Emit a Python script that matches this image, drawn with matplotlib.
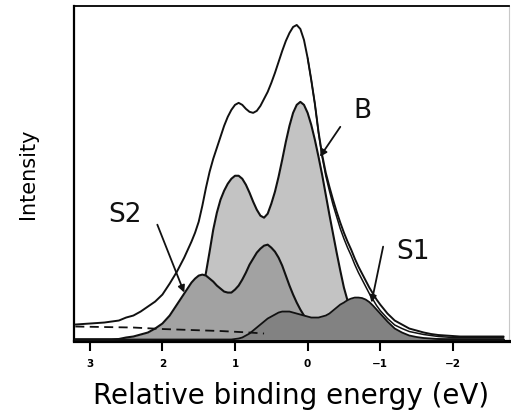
"""Photoemission peak decomposition: bulk (B) and surface (S1, S2) components."""

import matplotlib

matplotlib.use("Agg")
import matplotlib.pyplot as plt


# relative binding energy (eV): 0.1 eV steps in the tails, 0.05 eV across the peaks
ENERGY = [
    3.2, 3.1, 3.0, 2.9, 2.8, 2.7, 2.6, 2.5, 2.4, 2.3, 2.2, 2.1, 2.0, 1.9, 1.8, 1.7,
    1.6, 1.55, 1.5, 1.45, 1.4, 1.35, 1.3, 1.25, 1.2, 1.15,
    1.1, 1.05, 1.0, 0.95, 0.9, 0.85, 0.8, 0.75, 0.7, 0.65,
    0.6, 0.55, 0.5, 0.45, 0.4, 0.35, 0.3, 0.25, 0.2, 0.15,
    0.1, 0.05, 0.0, -0.05, -0.1, -0.15, -0.2, -0.25, -0.3, -0.35,
    -0.4, -0.45, -0.5, -0.55, -0.6, -0.65, -0.7, -0.75, -0.8, -0.85,
    -0.9, -0.95, -1.0,
    -1.1, -1.2, -1.3, -1.4, -1.5, -1.6, -1.7, -1.8, -1.9, -2.0,
    -2.1, -2.2, -2.3, -2.4, -2.5, -2.6, -2.7,
]

# measured spectrum (outer envelope)
TOTAL = [
    15, 15.5, 16, 16.5, 17, 18, 19, 22, 24, 28, 33, 38, 45, 56, 68, 82,
    98, 107, 118, 134, 152, 168, 181, 192, 203, 214,
    223, 230, 235, 237, 235, 231, 228, 227, 229, 234,
    241, 248, 257, 267, 278, 289, 299, 307, 313, 315,
    311, 300, 282, 260, 236, 208, 185, 167, 153, 140,
    128, 117, 107, 98, 90, 81, 73, 66, 59, 52,
    46, 40, 35,
    26, 19, 15, 11, 9, 7, 5.5, 4.5, 4, 3.5,
    3, 3, 3, 3, 3, 3, 3,
]

BULK = [
    0, 0, 0, 0, 0, 0, 0, 0, 0, 0, 0, 0.5, 1, 3, 6, 12,
    22, 29, 37, 50, 67, 88, 110, 127, 140, 149,
    156, 161, 164, 164, 161, 155, 147, 138, 130, 124,
    122, 126, 136, 148, 163, 180, 198, 214, 227, 235,
    238, 235, 227, 215, 200, 183, 165, 145, 125, 106,
    87, 69, 52, 39, 28, 20, 14, 10, 7, 5,
    3, 2, 1,
    0, 0, 0, 0, 0, 0, 0, 0, 0, 0,
    0, 0, 0, 0, 0, 0, 0,
]

SURFACE_2 = [
    0, 0, 0, 0, 0, 0, 0.5, 2, 3, 5, 7, 11, 16, 24, 35, 46,
    57, 61, 64, 65, 64, 61, 58, 54, 51, 48,
    47, 47, 50, 54, 60, 67, 75, 81, 87, 91,
    94, 95, 92, 88, 82, 74, 64, 54, 45, 37,
    30, 24, 19, 15, 12, 9, 6, 4.5, 3, 2,
    1, 0.5, 0, 0, 0, 0, 0, 0, 0, 0,
    0, 0, 0,
    0, 0, 0, 0, 0, 0, 0, 0, 0, 0,
    0, 0, 0, 0, 0, 0, 0,
]

SURFACE_1 = [
    0, 0, 0, 0, 0, 0, 0, 0, 0, 0, 0, 0, 0, 0, 0, 0,
    0, 0, 0, 0, 0, 0, 0, 0, 0, 0,
    0, 0, 0.5, 1, 2, 4, 6, 9, 12, 15,
    18, 21, 23, 25, 27, 28, 28, 28, 27, 26,
    25, 24, 23, 22, 22, 22, 23, 24, 26, 29,
    32, 35, 37, 39.5, 41, 42, 42, 41.5, 40, 37.5,
    34, 30, 26,
    18, 11, 7, 4, 2.5, 1.5, 1, 0.5, 0, 0,
    0, 0, 0, 0, 0, 0, 0,
]

# fitted sum, separable from the data only on the low-energy side (from 0 eV on)
FIT = [
    282, 260, 236, 207, 183, 164, 149, 135, 123, 111,
    101, 92, 84, 75, 67, 60, 53, 46, 40, 34,
    29,
    21, 14.5, 11, 8, 6.5, 5, 4, 3, 2.5, 2,
    2, 2, 2, 2, 2, 2, 2,
]

BG_ENERGY = [3.2, 2.8, 2.4, 2.0, 1.6, 1.2, 0.8, 0.6]
BACKGROUND = [13, 12.5, 12, 10.5, 9.5, 8.5, 7, 6]

TICKS = [3, 2, 1, 0, -1, -2]
TICK_LABELS = ["3", "2", "1", "0", "\u22121", "\u22122"]

# label text, label position, arrow tail, arrow head (data coords)
LABELS = [
    ("B", (-0.76, 229), (-0.45, 213), (-0.17, 183)),
    ("S2", (2.51, 125), (2.07, 115), (1.70, 47)),
    ("S1", (-1.45, 88), (-1.04, 93), (-0.88, 37)),
]

COLORS = {
    "bulk": "#c3c3c3",
    "s2": "#a2a2a2",
    "s1": "#828282",
    "ink": "#111111",
}


def line(ax, x, y, lw, z, **kw):
    ax.plot(x, y, color=COLORS["ink"], lw=lw, zorder=z,
            solid_joinstyle="round", solid_capstyle="round", **kw)


def draw_components(ax):
    ax.fill_between(ENERGY, BULK, 0, color=COLORS["bulk"], lw=0, zorder=2)
    line(ax, ENERGY, BULK, 1.5, 3)
    ax.fill_between(ENERGY, SURFACE_2, 0, color=COLORS["s2"], lw=0, zorder=4)
    line(ax, ENERGY, SURFACE_2, 1.5, 5)
    ax.fill_between(ENERGY, SURFACE_1, 0, color=COLORS["s1"], lw=0, zorder=6)
    line(ax, ENERGY, SURFACE_1, 1.3, 7)
    ax.plot(BG_ENERGY, BACKGROUND, color=COLORS["ink"], lw=1.3,
            dashes=(5, 3), zorder=8)
    line(ax, ENERGY, TOTAL, 1.4, 9)
    start = ENERGY.index(0.0)
    line(ax, ENERGY[start:], FIT, 1.1, 9)


def draw_labels(ax):
    for text, pos, tail, head in LABELS:
        ax.text(*pos, text, ha="center", va="center", fontsize=19,
                color=COLORS["ink"], zorder=10)
        ax.annotate(
            "",
            xy=head,
            xytext=tail,
            arrowprops=dict(arrowstyle="-|>", lw=1.3, color=COLORS["ink"],
                            mutation_scale=10, shrinkA=0, shrinkB=0),
            zorder=10,
        )


def style_axes(ax):
    ax.set_xlim(3.218, -2.774)
    ax.set_ylim(-1.5, 334)
    ax.set_xticks(TICKS)
    ax.set_xticklabels(TICK_LABELS, fontsize=7.5, fontweight="bold")
    ax.set_yticks([])
    ax.tick_params(axis="x", direction="out", length=7, width=1.5, pad=6)
    ax.spines["bottom"].set_linewidth(2.3)
    ax.spines["left"].set_linewidth(1.6)
    ax.spines["top"].set_linewidth(1.3)
    ax.spines["right"].set_linewidth(0.8)
    ax.spines["right"].set_color("#c8c8c8")
    ax.set_xlabel("Relative binding energy (eV)", fontsize=20, labelpad=9)
    ax.set_ylabel("Intensity", fontsize=15, labelpad=26)


def main():
    plt.rcParams["font.family"] = "DejaVu Sans"
    fig = plt.figure(figsize=(5.11, 4.18), dpi=100, facecolor="white")
    ax = fig.add_axes([0.1448, 0.1842, 0.8513, 0.8014])
    draw_components(ax)
    draw_labels(ax)
    style_axes(ax)
    fig.savefig("out.png", dpi=100, facecolor="white")
    plt.close(fig)


if __name__ == "__main__":
    main()
